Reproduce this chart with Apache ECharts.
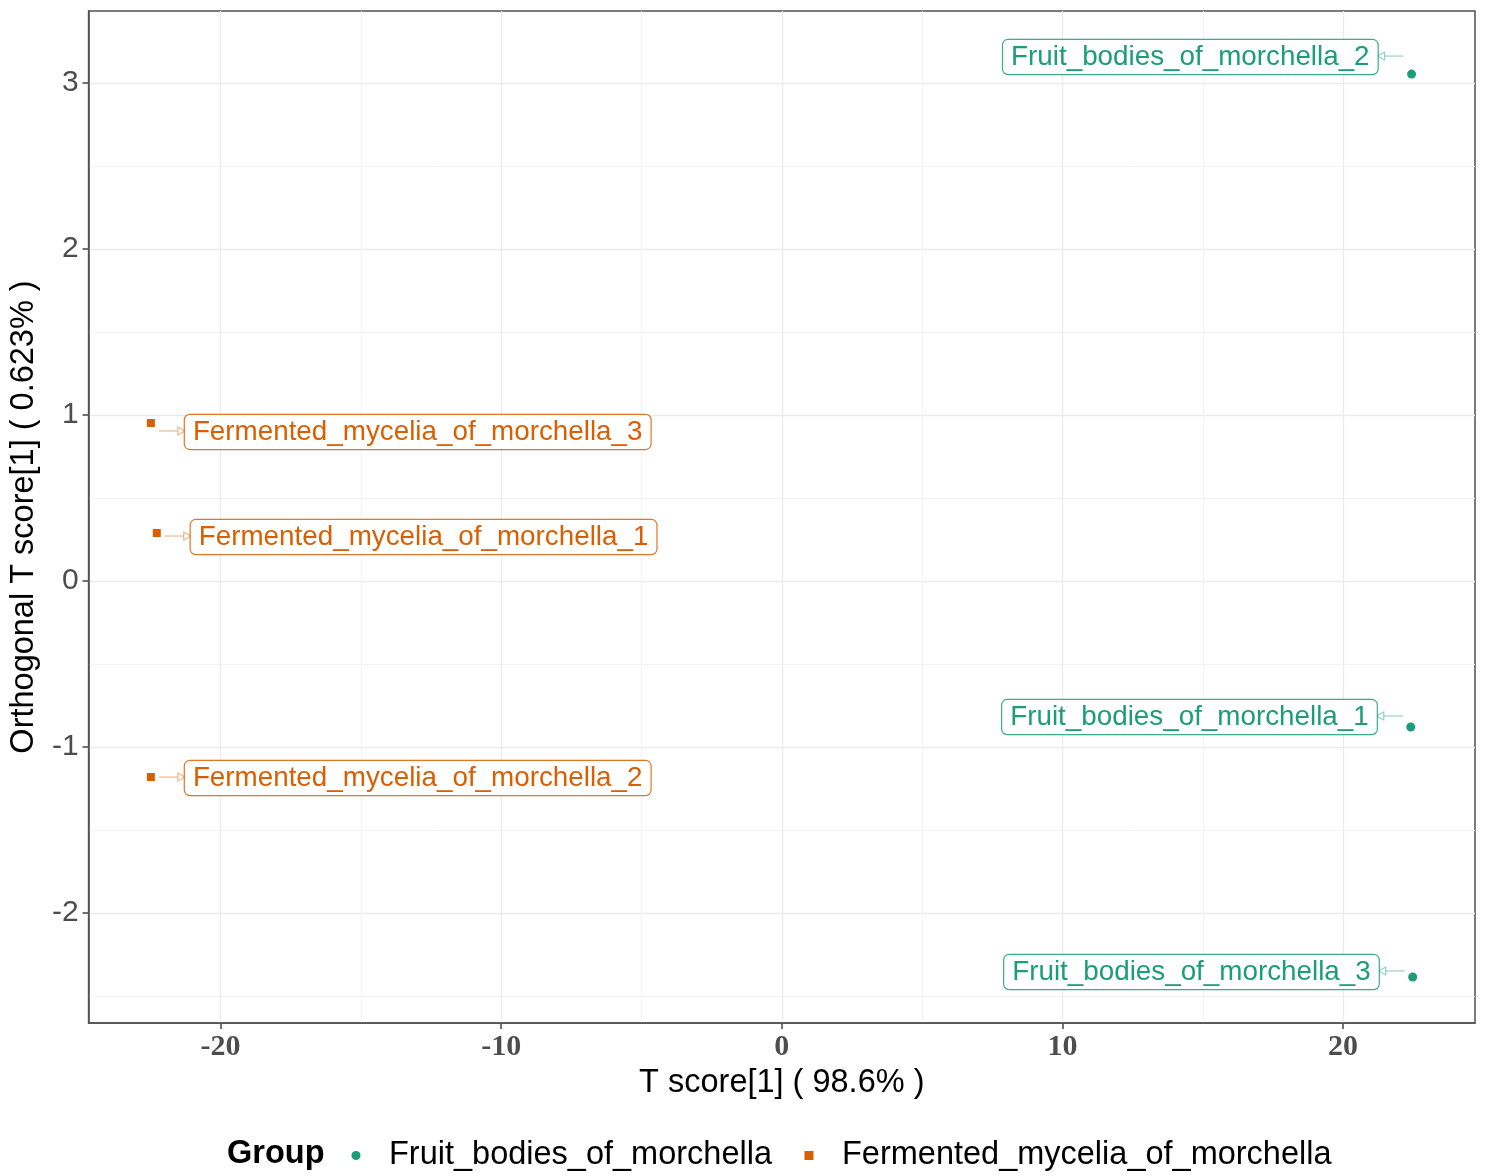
<!DOCTYPE html>
<html>
<head>
<meta charset="utf-8">
<title>OPLS-DA score plot</title>
<script src="https://cdn.jsdelivr.net/npm/echarts@6/dist/echarts.min.js"></script>
<style>
  html, body { margin: 0; padding: 0; background: #ffffff; }
  #chart { width: 1485px; height: 1176px; }
</style>
</head>
<body>
<div id="chart"></div>
<script>
// Sample groups
const groups = ['Fruit_bodies_of_morchella', 'Fermented_mycelia_of_morchella'];
const groupColors = ['#1B9E77', '#D95F02'];

// Fruit bodies: predictive score T[1] and orthogonal score
const fruitNames = ['Fruit_bodies_of_morchella_1', 'Fruit_bodies_of_morchella_2', 'Fruit_bodies_of_morchella_3'];
const fruitT = [22.41, 22.44, 22.48];
const fruitOrtho = [-0.88, 3.054, -2.386];

// Fermented mycelia: predictive score T[1] and orthogonal score
const fermNames = ['Fermented_mycelia_of_morchella_1', 'Fermented_mycelia_of_morchella_2', 'Fermented_mycelia_of_morchella_3'];
const fermT = [-22.27, -22.48, -22.48];
const fermOrtho = [0.289, -1.181, 0.952];

// Axis extents and tick positions
const xRange = [-24.7, 24.7];
const yRange = [-2.663, 3.434];
const xTicks = [-20, -10, 0, 10, 20];
const yTicks = [-2, -1, 0, 1, 2, 3];
const xMinorTicks = [-15, -5, 5, 15];
const yMinorTicks = [-2.5, -1.5, -0.5, 0.5, 1.5, 2.5];

const xTitle = 'T score[1] ( 98.6% )';
const yTitle = 'Orthogonal T score[1] ( 0.623% )';

// Repelled label placement (pixel offsets of the label centre from its point)
const labelShift = {
  'Fruit_bodies_of_morchella_1': -11,
  'Fruit_bodies_of_morchella_2': -18,
  'Fruit_bodies_of_morchella_3': -6,
  'Fermented_mycelia_of_morchella_1': 3,
  'Fermented_mycelia_of_morchella_2': 0,
  'Fermented_mycelia_of_morchella_3': 8
};

const SANS = '"Liberation Sans", Arial, sans-serif';
const SERIF = '"Liberation Serif", "Times New Roman", serif';
const FRAME = '#505050';

function pairs(xs, ys) { return xs.map((x, i) => [x, ys[i]]); }

function fade(hex, a) {
  const n = parseInt(hex.slice(1), 16);
  return 'rgba(' + (n >> 16) + ',' + ((n >> 8) & 255) + ',' + (n & 255) + ',' + a + ')';
}

// Boxed label joined to its point by a short arrowed segment
function labelRenderer(names, color, dir) {
  return function (params, api) {
    const p = api.coord([api.value(0), api.value(1)]);
    const name = names[params.dataIndex];
    const ly = p[1] + labelShift[name];
    const edge = p[0] + dir * 34;
    const start = p[0] + dir * 8;
    const soft = fade(color, 0.45);
    return {
      type: 'group',
      children: [
        { type: 'line', shape: { x1: start, y1: ly, x2: edge, y2: ly },
          style: { stroke: soft, lineWidth: 1.2 } },
        { type: 'polygon',
          shape: { points: [[edge, ly], [edge - dir * 7, ly - 4], [edge - dir * 7, ly + 4]] },
          style: { fill: '#ffffff', stroke: soft, lineWidth: 1.2 } },
        { type: 'text', x: edge, y: ly + 1,
          style: {
            text: name, fill: color, font: '27.8px ' + SANS,
            align: dir < 0 ? 'right' : 'left', verticalAlign: 'middle',
            lineHeight: 28, padding: [3, 8, 3, 8],
            backgroundColor: '#ffffff', borderColor: fade(color, 0.85), borderWidth: 1.2, borderRadius: 5
          } }
      ]
    };
  };
}

const chart = echarts.init(document.getElementById('chart'), null, { renderer: 'canvas' });

const gridLine = { show: true, lineStyle: { color: '#ebebeb', width: 1.3 } };
const minorLine = { show: true, lineStyle: { color: '#f3f3f3', width: 1 } };
const frameLine = { show: true, onZero: false, lineStyle: { color: FRAME, width: 1.5 } };

chart.setOption({
  animation: false,
  backgroundColor: '#ffffff',
  title: {
    text: 'Group', left: 222, top: 1133,
    textStyle: { fontFamily: SANS, fontSize: 32.5, fontWeight: 'bold', color: '#000000' }
  },
  legend: {
    left: 346.5, top: 1134,
    itemWidth: 9, itemHeight: 9, itemGap: 32.5,
    data: [
      { name: groups[0], icon: 'circle' },
      { name: groups[1], icon: 'rect' }
    ],
    textStyle: { fontFamily: SANS, fontSize: 32.5, color: '#000000', padding: [0, 0, 0, 23.5] }
  },
  grid: {
    left: 88, right: 10, top: 11, bottom: 153,
    show: true, borderColor: FRAME, borderWidth: 1.5, containLabel: false
  },
  xAxis: [
    {
      type: 'value', min: xRange[0], max: xRange[1],
      name: xTitle, nameLocation: 'middle', nameGap: 44,
      nameTextStyle: { fontFamily: SANS, fontSize: 32.5, color: '#000000' },
      axisLine: frameLine,
      axisTick: { show: true, inside: false, length: 6, customValues: xTicks, lineStyle: { color: FRAME, width: 1.6 } },
      axisLabel: { customValues: xTicks, margin: 9, fontFamily: SERIF, fontWeight: 'bold', fontSize: 30, color: '#4d4d4d' },
      splitLine: gridLine
    },
    {
      type: 'value', min: xRange[0], max: xRange[1], position: 'bottom',
      axisLine: { show: false, onZero: false },
      axisTick: { show: false, customValues: xMinorTicks },
      axisLabel: { show: false },
      splitLine: minorLine
    }
  ],
  yAxis: [
    {
      type: 'value', min: yRange[0], max: yRange[1],
      name: yTitle, nameLocation: 'middle', nameGap: 47,
      nameTextStyle: { fontFamily: SANS, fontSize: 32.5, color: '#000000' },
      axisLine: frameLine,
      axisTick: { show: true, inside: false, length: 6, customValues: yTicks, lineStyle: { color: FRAME, width: 1.6 } },
      axisLabel: { customValues: yTicks, margin: 10, fontFamily: SANS, fontSize: 30, color: '#4d4d4d' },
      splitLine: gridLine
    },
    {
      type: 'value', min: yRange[0], max: yRange[1], position: 'left',
      axisLine: { show: false, onZero: false },
      axisTick: { show: false, customValues: yMinorTicks },
      axisLabel: { show: false },
      splitLine: minorLine
    }
  ],
  series: [
    {
      name: groups[0], type: 'scatter', symbol: 'circle', symbolSize: 9,
      itemStyle: { color: groupColors[0], opacity: 1 },
      data: pairs(fruitT, fruitOrtho), z: 3
    },
    {
      name: groups[1], type: 'scatter', symbol: 'rect', symbolSize: 8,
      itemStyle: { color: groupColors[1], opacity: 1 },
      data: pairs(fermT, fermOrtho), z: 3
    },
    {
      name: 'fruit-labels', type: 'custom', clip: false, z: 4,
      renderItem: labelRenderer(fruitNames, groupColors[0], -1),
      data: pairs(fruitT, fruitOrtho)
    },
    {
      name: 'ferm-labels', type: 'custom', clip: false, z: 4,
      renderItem: labelRenderer(fermNames, groupColors[1], 1),
      data: pairs(fermT, fermOrtho)
    }
  ]
});
</script>
</body>
</html>
